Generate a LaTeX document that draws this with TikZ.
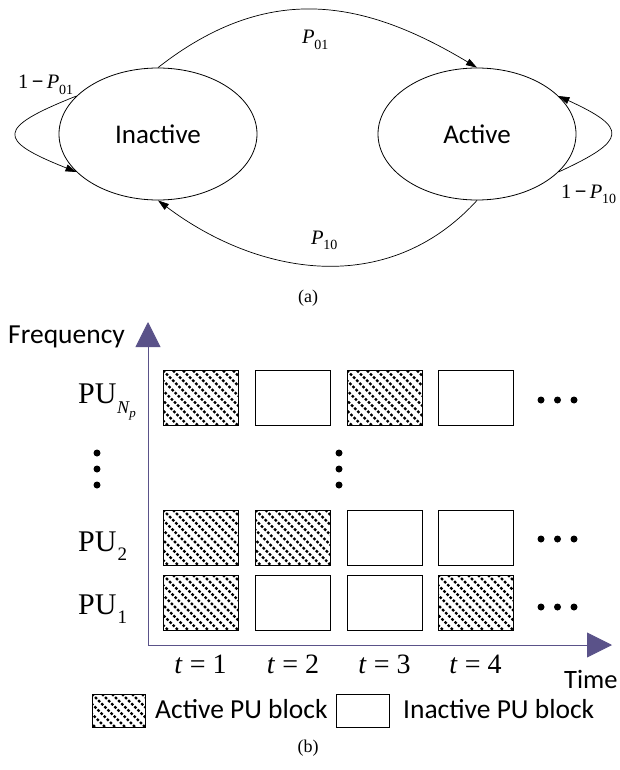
\documentclass[tikz,border=0pt]{standalone}
\usepackage{fontspec}
\setmainfont{Liberation Serif}
\newfontfamily\carl{Carlito}
\usetikzlibrary{arrows.meta,shapes.geometric}
\definecolor{axiscol}{HTML}{5A5289}
\newcommand{\Plab}[1]{\textit{P}\kern-0.3pt\raisebox{-0.28em}{\fontsize{14}{14}\selectfont #1}}
\begin{document}
\begin{tikzpicture}[x=1pt,y=-1pt,
  state/.style={draw,ellipse,line width=0.8pt,minimum width=198pt,minimum height=132pt,inner sep=0pt,font=\carl\fontsize{27}{27}\selectfont},
  trans/.style={line width=0.7pt,-{Triangle[length=11pt,width=7pt]}},
  plab/.style={font=\fontsize{20.5}{20.5}\selectfont,inner sep=0pt,anchor=base west},
  axisline/.style={draw=axiscol,line width=0.9pt,-{Triangle[length=25pt,width=25pt]}},
  blk/.style={draw,line width=0.8pt,minimum width=75pt,minimum height=55pt,inner sep=0pt},
  actblk/.style={blk,path picture={
     \foreach \i in {-100,-90,...,90}
       \draw[line width=2.2pt,dash pattern=on 2.6pt off 1.8pt]
         ([xshift=\i pt]path picture bounding box.north west) -- ++(100pt,-100pt);}},
  pulab/.style={font=\fontsize{30}{30}\selectfont,inner sep=0pt,anchor=base west},
  tlab/.style={font=\fontsize{28}{28}\selectfont,inner sep=0pt,anchor=base},
  sans/.style={font=\carl\fontsize{27.5}{27.5}\selectfont,inner sep=0pt,anchor=base west},
  captxt/.style={font=\fontsize{18}{18}\selectfont,inner sep=0pt},
  dotn/.style={fill,circle,minimum size=7pt,inner sep=0pt}]
\useasboundingbox (0,0) rectangle (619,770);

% ---------- (a) Markov chain ----------
\node[state] (inact) at (158,134) {Inactive};
\node[state] (act) at (477,134) {Active};

\draw[trans] (inact.north) .. controls (270,-20) and (366,1) .. (act.north);
\draw[trans] (act.south) .. controls (387,299) and (257,275) .. (inact.south);
\draw[trans] (inact.155) .. controls (-4,128) and (-4,140) .. (inact.205);
\draw[trans] (act.-25) .. controls (628,140) and (628,128) .. (act.25);

\node[plab] (p01) at (302,44) {\Plab{01}};
\node[plab] (p10) at (311,244) {\Plab{10}};
\node[plab] (p00) at (18,89) {1\,\textbf{−}\,\Plab{01}};
\node[plab] (p11) at (561,198) {1\,\textbf{−}\,\Plab{10}};

\node[captxt] (capa) at (308,298) {(a)};

% ---------- (b) PU blocks ----------
\coordinate (orig) at (148,645);
\coordinate (ytip) at (148,322);
\coordinate (xtip) at (612,645);
\draw[axisline] (orig) -- (ytip);
\draw[axisline] (orig) -- (xtip);

\node[sans] (freq) at (8,343) {Frequency};
\node[sans,font=\carl\fontsize{26.5}{26.5}\selectfont] (time) at (564,688) {Time};

\node[pulab] (puN) at (78,403) {PU\kern0.5pt\raisebox{-0.36em}{\fontsize{18}{18}\selectfont\textit{N}\kern-0.5pt\raisebox{-0.22em}{\fontsize{13}{13}\selectfont\textit{p}}}};
\node[pulab] (pu2) at (78,551) {PU\kern1pt\raisebox{-0.3em}{\fontsize{19}{19}\selectfont 2}};
\node[pulab] (pu1) at (78,614) {PU\kern1pt\raisebox{-0.3em}{\fontsize{19}{19}\selectfont 1}};

% top row (PU_Np)
\node[actblk] (bN1) at (200.5,398) {};
\node[blk]    (bN2) at (293,398) {};
\node[actblk] (bN3) at (384.5,398) {};
\node[blk]    (bN4) at (475.5,398) {};
% PU2
\node[actblk] (b21) at (200.5,537.5) {};
\node[actblk] (b22) at (293,537.5) {};
\node[blk]    (b23) at (384.5,537.5) {};
\node[blk]    (b24) at (475.5,537.5) {};
% PU1
\node[actblk] (b11) at (200.5,602.5) {};
\node[blk]    (b12) at (293,602.5) {};
\node[blk]    (b13) at (384.5,602.5) {};
\node[actblk] (b14) at (475.5,602.5) {};

% dots
\foreach \y [count=\r] in {400,539,607}
  \foreach \x [count=\c] in {541,557.5,574}
    \node[dotn] (h\r\c) at (\x,\y) {};
\foreach \y [count=\c] in {453,469,485} {
  \node[dotn] (vl\c) at (97,\y) {};
  \node[dotn] (vm\c) at (339,\y) {};
}

% time labels
\node[tlab] (t1) at (200.5,673) {\textit{t} = 1};
\node[tlab] (t2) at (293,673) {\textit{t} = 2};
\node[tlab] (t3) at (384.5,673) {\textit{t} = 3};
\node[tlab] (t4) at (475.5,673) {\textit{t} = 4};

% legend
\node[actblk,minimum width=53pt,minimum height=33pt] (lega) at (118.5,710.5) {};
\node[sans] (legat) at (155,718) {Active PU block};
\node[blk,minimum width=53pt,minimum height=33pt] (legi) at (362.5,710.5) {};
\node[sans] (legit) at (403,718) {Inactive PU block};

\node[captxt] (capb) at (308,748) {(b)};
\end{tikzpicture}
\end{document}
